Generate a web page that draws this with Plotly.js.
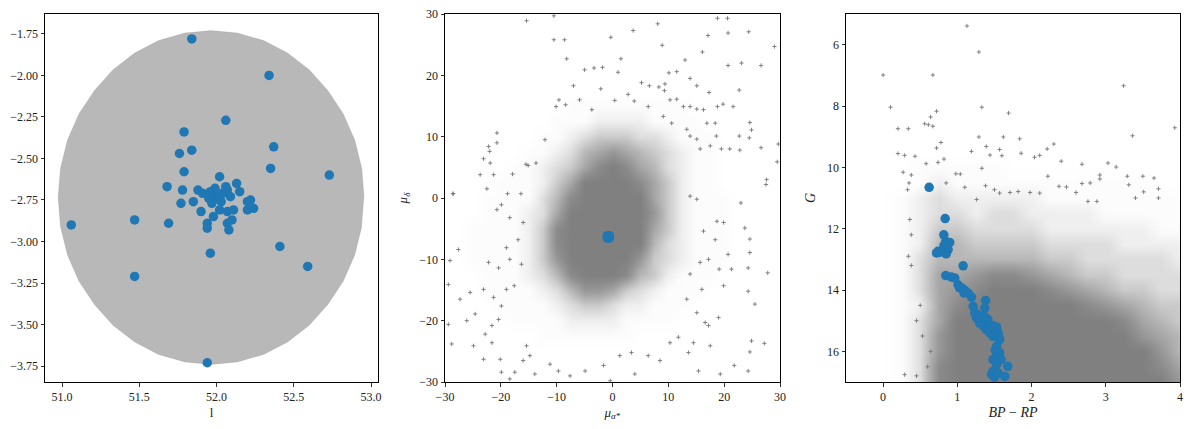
<!DOCTYPE html>
<html>
<head>
<meta charset="utf-8">
<script src="https://cdn.plot.ly/plotly-3.0.1.min.js"></script>
<style>
  html, body { margin: 0; padding: 0; background: #fff; }
  #chart { width: 1200px; height: 429px; }
</style>
</head>
<body>
<div id="chart"></div>
<script>
// ---- panel 1: field footprint and members in (l, b) ----
const fieldEdgeL = [52.955, 52.94, 52.895, 52.82, 52.72, 52.6, 52.46, 52.305, 52.135, 51.965, 51.795, 51.625, 51.47, 51.33, 51.21, 51.11, 51.035, 50.99, 50.975, 50.99, 51.035, 51.11, 51.21, 51.33, 51.47, 51.625, 51.795, 51.965, 52.135, 52.305, 52.46, 52.6, 52.72, 52.82, 52.895, 52.94];
const fieldEdgeB = [-2.735, -2.56, -2.39, -2.23, -2.09, -1.965, -1.865, -1.79, -1.745, -1.73, -1.745, -1.79, -1.865, -1.965, -2.09, -2.23, -2.39, -2.56, -2.735, -2.91, -3.08, -3.24, -3.38, -3.505, -3.605, -3.68, -3.725, -3.74, -3.725, -3.68, -3.605, -3.505, -3.38, -3.24, -3.08, -2.91];
const memberL = [51.84, 52.34, 52.06, 51.79, 51.84, 51.76, 52.37, 52.35, 52.73, 51.79, 52.02, 51.68, 51.78, 52.13, 52.15, 51.77, 51.85, 51.88, 51.91, 51.90, 51.69, 51.47, 51.06, 51.47, 51.96, 52.41, 52.59, 51.94, 51.99, 52.07, 51.99, 52.03, 52.09, 51.97, 52.02, 52.07, 52.11, 51.98, 51.94, 51.94, 52.10, 52.07, 52.08, 52.20, 52.22, 52.24, 52.20, 51.95, 52.04, 52.00, 52.06, 51.96];
const memberB = [-1.78, -2.00, -2.27, -2.34, -2.45, -2.47, -2.43, -2.56, -2.60, -2.58, -2.61, -2.67, -2.69, -2.65, -2.70, -2.77, -2.76, -2.69, -2.71, -2.82, -2.89, -2.87, -2.90, -3.21, -3.07, -3.03, -3.15, -3.73, -2.68, -2.69, -2.74, -2.76, -2.73, -2.77, -2.81, -2.82, -2.81, -2.85, -2.89, -2.92, -2.87, -2.89, -2.93, -2.76, -2.75, -2.80, -2.81, -2.74, -2.71, -2.71, -2.67, -2.70];

// ---- panel 2: proper motions ----
// star density (0 = empty, 9 = solid), read per 2.5 mas/yr cell, rows from +30 down to -30
const pmGridX = [-30, -27.5, -25, -22.5, -20, -17.5, -15, -12.5, -10, -7.5, -5, -2.5, 0, 2.5, 5, 7.5, 10, 12.5, 15, 17.5, 20, 22.5, 25, 27.5, 30];
const pmGridY = [30, 27.5, 25, 22.5, 20, 17.5, 15, 12.5, 10, 7.5, 5, 2.5, 0, -2.5, -5, -7.5, -10, -12.5, -15, -17.5, -20, -22.5, -25, -27.5, -30];
const pmDensity = [
  "0000000000000000000000000",
  "0000000000000000000000000",
  "0000000000000000000000000",
  "0000000000000000000000000",
  "0000000000000000000000000",
  "0000000000000000000000000",
  "0000000001111111110000000",
  "0000000011122221111000000",
  "0000000112344433211100000",
  "0000001123567654321100000",
  "0000011234689865321100000",
  "0000111246999986421100000",
  "0001111358999996421110000",
  "0001112369999997421110000",
  "0011112489999996421110000",
  "0011112489999995321110000",
  "0011112479999974321110000",
  "0001112358999854211100000",
  "0001111235776432111000000",
  "0000111123443221110000000",
  "0000011112222111100000000",
  "0000000111111100000000000",
  "0000000000000000000000000",
  "0000000000000000000000000",
  "0000000000000000000000000"
];
const pmStray = [
  [-15.4, 28.9], [-10.5, 29.7], [-10.5, 25.8], [-8.6, 25.8], [-8.2, 22.7], [-5.0, 20.9], [-3.3, 21.2], [-1.8, 21.3],
  [-0.3, 26.2], [1.5, 22.7], [1.0, 20.5], [3.7, 27.3], [8.1, 28.4], [8.9, 24.9], [5.2, 18.8], [6.6, 18.3], [8.3, 18.1],
  [9.3, 17.5], [9.4, 18.6], [10.1, 20.4], [11.5, 20.6], [13.0, 22.5], [13.9, 19.5], [15.1, 18.3], [16.1, 23.8],
  [17.1, 26.5], [18.8, 29.3], [20.6, 29.3], [20.7, 26.9], [20.7, 21.6], [23.1, 22.0], [24.4, 27.1], [26.6, 21.6],
  [29.0, 24.7], [22.7, 17.6], [21.6, 14.9], [24.6, 12.3], [24.9, 11.1], [22.7, 10.1], [26.6, 8.2], [29.7, 8.8],
  [29.5, 5.9], [27.6, 3.0], [27.5, 2.2], [-20.7, 10.6], [-22.2, 8.4], [-22.0, 7.6], [-23.1, 6.4], [-21.9, 5.7],
  [-20.7, 9.0], [-23.7, 3.8], [-21.3, 3.8], [-17.9, 3.9], [-15.5, 5.5], [-15.1, 5.3], [-13.7, 5.7], [-22.5, 1.5],
  [-28.6, 0.7], [-12.1, 9.5], [-9.6, 16.0], [-5.9, 16.0], [-10.1, 14.9], [-8.4, 15.2], [-7.0, 18.3], [-3.7, 14.4],
  [-2.1, 17.8], [0.4, 15.9], [2.8, 16.9], [3.9, 15.8], [6.4, 14.9], [10.3, 16.0], [11.5, 16.1], [12.7, 14.9],
  [13.9, 14.9], [15.1, 14.5], [16.3, 14.4], [17.3, 17.2], [18.8, 14.9], [19.8, 15.3], [18.4, 12.2], [16.9, 12.2],
  [18.6, 10.1], [21.0, 8.0], [22.8, 7.8], [24.5, 9.8], [19.5, 8.0], [17.5, 8.5], [15.7, 8.0], [15.1, 9.6],
  [13.3, 11.2], [13.9, 10.1], [10.6, 12.2], [9.1, 13.3],
  [-28.5, 0.7], [-18.8, 0.7], [-16.4, 0.7], [-29.1, -10.2], [-27.6, -8.4], [-29.4, -14.1], [-29.4, -20.6],
  [-28.8, -23.8], [-27.3, -16.5], [-25.5, -15.4], [-26.1, -20.0], [-24.6, -18.9], [-23.1, -14.9], [-21.3, -16.2],
  [-22.2, -10.5], [-20.4, -11.4], [-20.7, -1.9], [-19.9, -1.1], [-18.4, -3.2], [-16.9, -6.8], [-19.0, -8.1],
  [-18.4, -10.0], [-16.0, -4.0], [-16.3, -10.8], [-17.6, -14.3], [-19.0, -14.9], [-19.9, -17.6], [-20.4, -19.8],
  [-21.6, -20.8], [-22.8, -22.2], [-21.6, -23.6], [-23.1, -26.3], [-24.9, -24.1], [-20.1, -26.3], [-19.9, -28.4],
  [-18.4, -29.5], [-17.5, -28.4], [-16.0, -26.5], [-14.8, -25.7], [-15.4, -24.1], [-13.9, -28.7], [-11.2, -27.1],
  [-9.7, -28.2], [-7.6, -29.0], [-4.9, -28.2], [-1.6, -27.3], [-0.4, -29.8], [1.3, -25.7], [3.4, -25.2],
  [4.0, -28.7], [6.4, -25.7], [8.5, -26.5], [10.3, -23.6], [11.8, -22.7], [13.6, -25.2], [14.5, -23.6],
  [15.4, -28.2], [17.5, -24.1], [17.2, -20.8], [19.0, -19.5], [19.9, -14.3], [21.3, -11.6], [23.7, -4.9],
  [24.6, -6.7], [24.6, -8.9], [24.3, -11.4], [24.3, -15.2], [25.5, -17.3], [27.8, -12.2], [27.2, -23.7],
  [24.9, -23.3], [24.6, -25.1], [24.3, -28.2], [21.8, -27.3], [19.3, -28.7], [16.6, -20.3], [15.1, -18.7],
  [16.0, -14.9], [13.3, -16.5], [13.9, -12.4], [15.7, -10.5], [17.2, -10.0], [19.1, -11.6], [20.7, -9.2],
  [23.0, -0.8], [19.9, -4.0], [18.7, -3.8], [18.4, -6.8], [16.3, -5.4], [15.1, -0.2], [13.9, 0.3]
];
const pmMemberX = [-0.9, -0.6, -0.9, -0.6, -0.75];
const pmMemberY = [-6.2, -6.2, -6.5, -6.5, -6.35];

// ---- panel 3: colour-magnitude diagram ----
const cmdGridX = [-0.5, -0.25, 0, 0.25, 0.5, 0.75, 1, 1.25, 1.5, 1.75, 2, 2.25, 2.5, 2.75, 3, 3.25, 3.5, 3.75, 4];
const cmdGridY = [5, 5.5, 6, 6.5, 7, 7.5, 8, 8.5, 9, 9.5, 10, 10.5, 11, 11.5, 12, 12.5, 13, 13.5, 14, 14.5, 15, 15.5, 16, 16.5, 17];
const cmdDensity = [
  "0000000000000000000",
  "0000000000000000000",
  "0000000000000000000",
  "0000000000000000000",
  "0000000000000000000",
  "0000000000000000000",
  "0000000000000000000",
  "0000000000000000000",
  "0000000000000000000",
  "0000000000000000000",
  "0000111110000000000",
  "0000121111111111100",
  "0001232222211111111",
  "0001233233222211111",
  "0001244333322222211",
  "0001255444433332222",
  "0001355555544333332",
  "0001366788765443333",
  "0001367899987654433",
  "0001268999999876544",
  "0001369999999998654",
  "0001379999999999765",
  "0001379999999999975",
  "0001389999999999986",
  "0001389999999999997"
];
const cmdStray = [
  [1.13, 5.39], [1.29, 6.24], [0.0, 6.99], [0.67, 6.99], [3.24, 7.34], [0.10, 8.04], [1.33, 8.04], [1.69, 8.23],
  [0.72, 8.17], [0.64, 8.36], [0.56, 8.58], [0.61, 8.61], [0.67, 8.66], [0.20, 8.74], [0.34, 8.74], [3.93, 8.71],
  [3.36, 8.97], [1.29, 9.01], [1.62, 9.01], [1.84, 9.07], [0.78, 9.19], [0.72, 9.37], [1.19, 9.48], [1.39, 9.32],
  [1.57, 9.42], [2.30, 9.24], [2.21, 9.40], [2.11, 9.61], [2.04, 9.67], [1.86, 9.54], [1.44, 9.60], [1.60, 9.62],
  [1.33, 10.03], [0.20, 9.55], [0.29, 9.61], [0.43, 9.64], [0.27, 10.16], [0.38, 10.25], [0.58, 9.88], [0.74, 9.84],
  [0.98, 10.21], [1.04, 10.22], [0.82, 9.73], [2.40, 9.80], [2.68, 9.90], [3.03, 9.86], [3.14, 9.99], [2.92, 10.25],
  [2.92, 10.38], [3.29, 10.29], [3.50, 10.29], [3.65, 10.35], [3.71, 10.70], [3.71, 11.0], [3.51, 10.8], [3.40, 11.0],
  [3.31, 10.57], [2.68, 10.53], [2.79, 10.51], [2.22, 10.29], [2.37, 10.62], [2.47, 10.64], [2.60, 10.82], [2.76, 11.11],
  [2.88, 11.11], [2.11, 10.84], [1.98, 10.82], [1.71, 10.82], [1.82, 10.79], [1.50, 10.73], [1.57, 10.84], [1.38, 10.60],
  [1.26, 11.05], [1.10, 10.65], [0.85, 10.51], [0.35, 10.51], [0.33, 10.73], [0.29, 16.76], [0.45, 16.8], [0.64, 16.0],
  [0.53, 15.5], [0.38, 13.2], [0.34, 12.9], [0.38, 12.2], [0.36, 11.7], [0.50, 14.5], [0.45, 15.0], [0.60, 16.5]
];
const cmdMemberX = [0.62, 0.836, 0.818, 0.845, 0.898, 0.82, 0.876, 0.72, 0.76, 0.85, 0.74, 0.83, 1.078, 0.845, 0.92, 0.966, 1.01, 1.056, 1.10, 1.146, 1.19, 1.03, 1.09, 1.38, 1.37, 1.213, 1.235, 1.258, 1.30, 1.35, 1.39, 1.44, 1.48, 1.53, 1.55, 1.57, 1.53, 1.57, 1.53, 1.48, 1.59, 1.53, 1.68, 1.48, 1.55, 1.64, 1.27, 1.32, 1.42, 1.47, 1.41, 1.36, 1.46, 1.50, 1.51, 1.56];
const cmdMemberY = [10.65, 11.67, 12.20, 12.41, 12.45, 12.55, 12.68, 12.79, 12.77, 12.82, 12.74, 12.60, 13.21, 13.53, 13.58, 13.61, 13.83, 13.93, 14.01, 14.10, 14.23, 13.93, 14.10, 14.34, 14.59, 14.53, 14.75, 14.91, 15.08, 15.18, 15.29, 15.40, 15.51, 15.21, 15.40, 15.62, 15.84, 16.05, 16.16, 16.27, 16.27, 16.43, 16.49, 16.65, 16.71, 16.82, 14.80, 15.00, 15.20, 15.15, 14.95, 14.85, 16.75, 16.85, 15.95, 15.56];

const GREY = "#808080";
const BLUE = "#1f77b4";
const FONT = "Liberation Serif, DejaVu Serif, serif";
const DENSITY_SCALE = [
  [0, "#ffffff"], [1 / 9, "#fcfcfc"], [2 / 9, "#efefef"], [3 / 9, "#dddddd"], [4 / 9, "#cacaca"],
  [5 / 9, "#b7b7b7"], [6 / 9, "#a6a6a6"], [7 / 9, "#979797"], [8 / 9, "#8a8a8a"], [1, "#808080"]
];

// turn digit rows into a z matrix; y arrays are listed top-down so sort rows ascending
function densityTrace(gx, gy, rows, ax) {
  const pairs = gy.map((y, i) => [y, rows[i].split("").map(Number)]).sort((a, b) => a[0] - b[0]);
  return {
    type: "heatmap", x: gx, y: pairs.map(p => p[0]), z: pairs.map(p => p[1]),
    zmin: 0, zmax: 9, zsmooth: "best", colorscale: DENSITY_SCALE, showscale: false,
    xaxis: "x" + ax, yaxis: "y" + ax, hoverinfo: "skip"
  };
}

function dots(pairs, ax) {
  return {
    type: "scatter", mode: "markers",
    x: pairs.map(p => p[0]), y: pairs.map(p => p[1]),
    marker: { symbol: "cross-thin", size: 3, line: { width: 0.9, color: "#777" } },
    xaxis: "x" + ax, yaxis: "y" + ax, hoverinfo: "skip", showlegend: false
  };
}

function members(xs, ys, ax, size) {
  return {
    type: "scatter", mode: "markers", x: xs, y: ys,
    marker: { size: size, color: BLUE },
    xaxis: "x" + ax, yaxis: "y" + ax, showlegend: false
  };
}

const traces = [
  {
    type: "scatter", mode: "lines", x: fieldEdgeL, y: fieldEdgeB, fill: "toself",
    fillcolor: "rgba(128,128,128,0.56)", line: { width: 0.6, color: "rgba(128,128,128,0.35)" },
    hoverinfo: "skip", showlegend: false
  },
  members(memberL, memberB, "", 9.5),

  densityTrace(pmGridX, pmGridY, pmDensity, "2"),
  dots(pmStray, "2"),
  members(pmMemberX, pmMemberY, "2", 10),

  densityTrace(cmdGridX, cmdGridY, cmdDensity, "3"),
  dots(cmdStray, "3"),
  members(cmdMemberX, cmdMemberY, "3", 9.5),
];

function axis(extra, titleText, titleSize, standoff) {
  const ax = Object.assign({
    showgrid: false, zeroline: false, showline: true, mirror: true,
    linecolor: "#000", linewidth: 1, ticks: "outside", ticklen: 3.5,
    tickwidth: 0.8, tickcolor: "#000", tickfont: { family: FONT, size: 12, color: "#222" }
  }, extra);
  if (titleText) {
    ax.title = { text: titleText, standoff: standoff, font: { family: FONT, size: titleSize, color: "#222" } };
  }
  return ax;
}

const yDom = [1 - 382 / 429, 1 - 14 / 429];

const layout = {
  width: 1200, height: 429,
  margin: { l: 0, r: 0, t: 0, b: 0 },
  paper_bgcolor: "#fff", plot_bgcolor: "#fff",
  font: { family: FONT },
  xaxis: axis({ domain: [45 / 1200, 378 / 1200], range: [50.89, 53.045],
    tickvals: [51, 51.5, 52, 52.5, 53], tickformat: ".1f" }, "l", 13, 4),
  yaxis: axis({ domain: yDom, range: [-3.846, -1.63],
    tickvals: [-1.75, -2, -2.25, -2.5, -2.75, -3, -3.25, -3.5, -3.75], tickformat: ".2f" }),
  xaxis2: axis({ domain: [445 / 1200, 780 / 1200], range: [-30, 30], anchor: "y2",
    tickvals: [-30, -20, -10, 0, 10, 20, 30] }, "<i>μ</i><sub><i>α</i>*</sub>", 13, 4),
  yaxis2: axis({ domain: yDom, range: [-30, 30], anchor: "x2",
    tickvals: [-30, -20, -10, 0, 10, 20, 30] }, "<i>μ</i><sub><i>δ</i></sub>", 13, 8),
  xaxis3: axis({ domain: [846 / 1200, 1180 / 1200], range: [-0.5, 4], anchor: "y3",
    tickvals: [0, 1, 2, 3, 4] }, "<i>BP</i> − <i>RP</i>", 14, 4),
  yaxis3: axis({ domain: yDom, range: [17, 5], anchor: "x3",
    tickvals: [6, 8, 10, 12, 14, 16] }, "<i>G</i>", 14, 8),
};

Plotly.newPlot("chart", traces, layout, { displayModeBar: false, staticPlot: true });
</script>
</body>
</html>
